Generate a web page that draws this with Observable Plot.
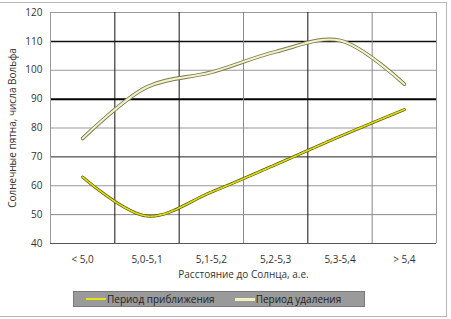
<!DOCTYPE html>
<html><head><meta charset="utf-8">
<script src="https://cdn.jsdelivr.net/npm/d3@7"></script>
<script src="https://cdn.jsdelivr.net/npm/@observablehq/plot@0.6"></script>
<style>
body{margin:0;background:#fff;font-family:"Open Sans",sans-serif;}
#frame{position:absolute;left:-1px;top:2px;width:446px;height:313px;border:1px solid #b8b8b8;}
#chart{position:absolute;left:0;top:0;}
#legend{position:absolute;left:73px;top:291px;width:292px;height:16px;background:#9a9a9a;border:1px solid #7a7a7a;box-sizing:border-box;font-size:10px;color:#222;display:flex;align-items:center;}
.item{display:flex;align-items:center;}
.sw{display:inline-block;width:20px;height:2px;margin-right:1px;}
</style></head><body>
<div id="frame"></div>
<div id="chart"></div>
<div id="legend">
  <span class="item" style="margin-left:12px"><span class="sw" style="background:#e6e600"></span>Период приближения</span>
  <span class="item" style="margin-left:20px"><span class="sw" style="background:#f0f0c0;height:3px"></span>Период удаления</span>
</div>
<script>
const categories = ["< 5,0", "5,0-5,1", "5,1-5,2", "5,2-5,3", "5,3-5,4", "> 5,4"];
const approach = [63, 49.5, 57.8, 67.3, 77.1, 86.4];   // Период приближения
const recede = [76.4, 94.2, 99.3, 106.4, 110.3, 95.2];   // Период удаления
const yTicks = [40, 50, 60, 70, 80, 90, 100, 110, 120];
const yGridColors = ["#555", "#888", "#999", "#222", "#999", "#000", "#999", "#111", "#999"];
const yGridWidths = [1, 1, 1, 1, 1, 2, 1, 1.5, 1];
const xBounds = [0.5, 1.5, 2.5, 3.5, 4.5, 5.5];
const xGridColors = ["#111", "#111", "#888", "#111", "#888", "#999"];

const rowsA = approach.map((v, i) => ({i, v}));
const rowsR = recede.map((v, i) => ({i, v}));
const hrows = yTicks.map((t, k) => ({t, c: yGridColors[k], w: yGridWidths[k]}));
const vrows = xBounds.map((b, k) => ({b, c: xGridColors[k]}));

const plot = Plot.plot({
  width: 451, height: 286,
  marginLeft: 50, marginRight: 15, marginTop: 12, marginBottom: 43,
  style: {fontFamily: "Open Sans, sans-serif", fontSize: "10px", color: "#333", background: "transparent"},
  x: {domain: [-0.5, 5.5]},
  y: {domain: [40, 120]},
  marks: [
    Plot.ruleY(hrows, {y: "t", stroke: "c", strokeWidth: "w"}),
    Plot.ruleX(vrows, {x: "b", stroke: "c", strokeWidth: 1}),
    Plot.ruleX([-0.5], {stroke: "#999"}),
    Plot.axisX({ticks: [0,1,2,3,4,5], tickFormat: i => categories[i], tickSize: 0, tickPadding: 12,
      label: "Расстояние до Солнца, а.е.", labelAnchor: "center", labelOffset: 34, labelArrow: "none"}),
    Plot.axisY({ticks: yTicks, tickSize: 0, tickPadding: 8,
      label: "Солнечные пятна, числа Вольфа", labelAnchor: "center", labelOffset: 42, labelArrow: "none"}),
    Plot.line(rowsR, {x: "i", y: "v", curve: "catmull-rom", stroke: "#7a7a58", strokeWidth: 3.8}),
    Plot.line(rowsR, {x: "i", y: "v", curve: "catmull-rom", stroke: "#f3f3c4", strokeWidth: 2}),
    Plot.line(rowsA, {x: "i", y: "v", curve: "catmull-rom", stroke: "#5a5a20", strokeWidth: 3}),
    Plot.line(rowsA, {x: "i", y: "v", curve: "catmull-rom", stroke: "#e2e200", strokeWidth: 1.6, strokeDasharray: "3,1.2"})
  ]
});
document.getElementById("chart").appendChild(plot);
</script>
</body></html>
